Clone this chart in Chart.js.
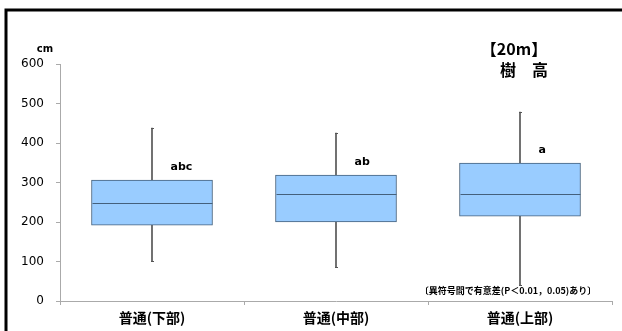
<!DOCTYPE html>
<html>
<head>
<meta charset="utf-8">
<script src="https://cdn.jsdelivr.net/npm/chart.js@4/dist/chart.umd.min.js"></script>
<style>
  body { margin: 0; background: #fff; overflow: hidden; }
  #wrap { width: 622px; height: 331px; position: relative; }
</style>
</head>
<body>
<div id="wrap"><canvas id="box-chart" width="622" height="331"></canvas></div>
<script>
var categories = ["普通(下部)", "普通(中部)", "普通(上部)"]
var mins = [101, 86, 40]
var q1s = [192, 200, 215]
var medians = [248, 272, 272]
var q3s = [306, 319, 349]
var maxs = [438, 425, 478]
var letters = ["abc", "ab", "a"]
var yTicks = [0, 100, 200, 300, 400, 500, 600]

var whiskerData = []
var boxData = []
categories.forEach(function (c, i) {
  whiskerData.push([mins[i], maxs[i]]);
  boxData.push([q1s[i], q3s[i]]);
});

// draws frame, medians, caps, letters and notes
var extras = {
  id: 'extras',
  afterDatasetsDraw: function (chart) {
    var ctx = chart.ctx;
    var x = chart.scales.x, y = chart.scales.y;
    ctx.save();
    categories.forEach(function (c, i) {
      var cx = Math.round(x.getPixelForValue(i)) + 0.5;
      // median
      ctx.strokeStyle = '#44607c';
      ctx.lineWidth = 1;
      ctx.beginPath();
      var my = Math.round(y.getPixelForValue(medians[i])) + 0.5;
      ctx.moveTo(cx - 60, my); ctx.lineTo(cx + 60, my);
      ctx.stroke();
      // caps
      ctx.strokeStyle = '#555';
      [mins[i], maxs[i]].forEach(function (v) {
        var vy = Math.round(y.getPixelForValue(v)) + 0.5;
        ctx.beginPath(); ctx.moveTo(cx - 1.5, vy); ctx.lineTo(cx + 1.5, vy); ctx.stroke();
      });
      // letters
      ctx.fillStyle = '#000';
      ctx.font = 'bold 11px "DejaVu Sans"';
      ctx.textAlign = 'left';
      ctx.textBaseline = 'alphabetic';
      ctx.fillText(letters[i], cx + 18, y.getPixelForValue(q3s[i]) - 10);
    });
    // unit
    ctx.font = 'bold 10px "DejaVu Sans"';
    ctx.textAlign = 'center';
    ctx.fillText('cm', 45, 52);
    // title
    ctx.font = 'bold 16px "Noto Sans CJK JP"';
    ctx.fillText('【20m】', 514, 55);
    ctx.fillText('樹　高', 524, 76);
    // note
    ctx.font = 'bold 9px "Noto Sans CJK JP"';
    ctx.fillText('〔異符号間で有意差(P＜0.01，0.05)あり〕', 508, 294);
    // frame, top and left only (rest is off the picture)
    ctx.strokeStyle = '#000';
    ctx.lineWidth = 3;
    ctx.beginPath();
    ctx.moveTo(6, 340); ctx.lineTo(6, 10); ctx.lineTo(640, 10);
    ctx.stroke();
    ctx.restore();
  }
};

new Chart(document.getElementById("box-chart"), {
  type: 'bar',
  data: {
    labels: categories,
    datasets: [
      {
        label: "whisker",
        data: whiskerData,
        backgroundColor: '#555',
        barThickness: 1,
        grouped: false,
        order: 2
      },
      {
        label: "box",
        data: boxData,
        backgroundColor: '#99ccff',
        borderColor: '#44607c',
        borderWidth: 1,
        borderSkipped: false,
        barThickness: 121,
        grouped: false,
        order: 1
      }
    ]
  },
  options: {
    responsive: false,
    animation: false,
    layout: { padding: { top: 64, right: 10, left: 0, bottom: 0 } },
    plugins: {
      legend: { display: false },
      tooltip: { enabled: false },
      title: { display: false }
    },
    scales: {
      x: {
        afterFit: function (s) { s.height = 30; },
        grid: { drawOnChartArea: false, tickLength: 4, color: '#aaa' },
        border: { color: '#aaa' },
        ticks: {
          padding: 4,
          color: '#000',
          font: { family: '"Noto Sans CJK JP"', size: 14, weight: 'bold' }
        }
      },
      y: {
        min: 0,
        max: 600,
        afterFit: function (s) { s.width = 60; },
        afterBuildTicks: function (s) { s.ticks = yTicks.map(function (v) { return { value: v }; }); },
        grid: { drawOnChartArea: false, tickLength: 4, color: '#aaa' },
        border: { color: '#aaa' },
        ticks: {
          padding: 12,
          color: '#000',
          font: { family: '"DejaVu Sans"', size: 12 }
        }
      }
    }
  },
  plugins: [extras]
});
</script>
</body>
</html>
